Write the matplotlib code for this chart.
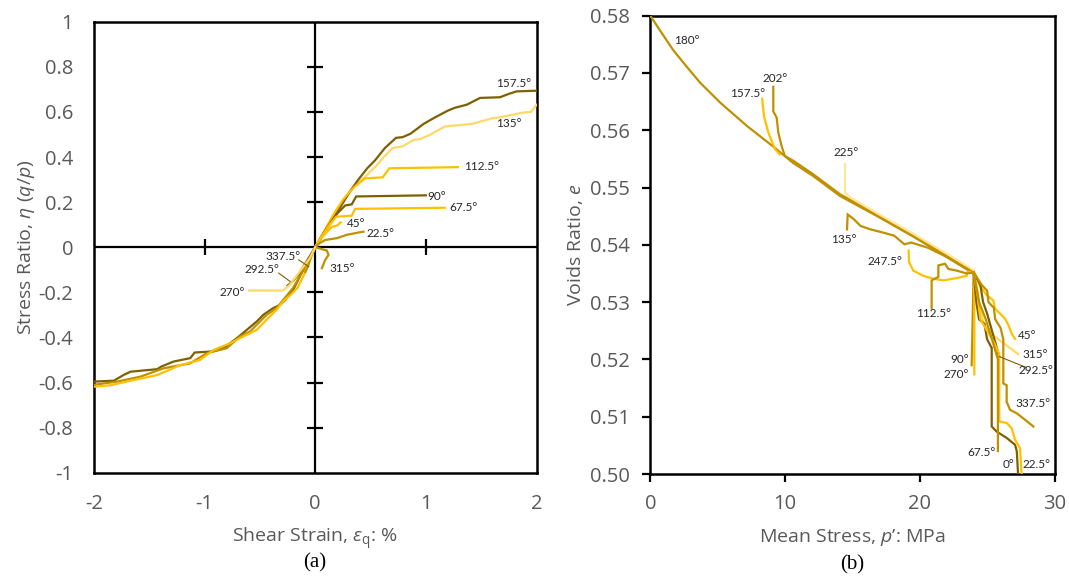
import matplotlib
matplotlib.use("Agg")
import matplotlib.pyplot as plt

plt.rcParams['font.family'] = ['Open Sans', 'DejaVu Sans']
plt.rcParams['mathtext.fontset'] = 'custom'
plt.rcParams['mathtext.rm'] = 'Open Sans'
plt.rcParams['mathtext.it'] = 'Open Sans:italic'

DARK = '#7F6000'
MID = '#BF9000'
GOLD = '#FFC000'
LIGHT = '#FFD966'
PALE = '#FFE699'
TICK_GREY = '#595959'
LABEL_GREY = '#262626'
NOTE_FONT = ['Lato', 'DejaVu Sans']

# ---------------- (a) stress ratio vs shear strain ----------------
a_xticks = [-2, -1, 0, 1, 2]
a_yticks = [-1, -0.8, -0.6, -0.4, -0.2, 0, 0.2, 0.4, 0.6, 0.8, 1]
a_yticklabels = ['-1', '-0.8', '-0.6', '-0.4', '-0.2', '0', '0.2', '0.4', '0.6', '0.8', '1']

a157_x = [0, 0.05, 0.12, 0.23, 0.31, 0.39, 0.47, 0.54, 0.63, 0.73, 0.79, 0.86, 0.98, 1.08, 1.2, 1.26, 1.37, 1.49, 1.67, 1.75, 1.82, 2.0]
a157_y = [0, 0.04, 0.1, 0.18, 0.245, 0.30, 0.35, 0.385, 0.44, 0.485, 0.488, 0.503, 0.547, 0.575, 0.606, 0.618, 0.632, 0.662, 0.665, 0.68, 0.691, 0.694]
a135_x = [0, 0.06, 0.15, 0.25, 0.36, 0.45, 0.55, 0.62, 0.70, 0.79, 0.89, 0.95, 1.04, 1.17, 1.23, 1.42, 1.60, 1.67, 1.88, 1.95, 2.0]
a135_y = [0, 0.04, 0.11, 0.2, 0.275, 0.312, 0.36, 0.40, 0.44, 0.447, 0.476, 0.48, 0.499, 0.535, 0.538, 0.547, 0.572, 0.576, 0.597, 0.60, 0.631]
a112_x = [0, 0.08, 0.17, 0.25, 0.30, 0.36, 0.45, 0.61, 0.67, 1.29]
a112_y = [0, 0.07, 0.15, 0.21, 0.24, 0.27, 0.305, 0.31, 0.35, 0.355]
a90_x = [0, 0.07, 0.14, 0.2, 0.27, 0.33, 0.37, 1.0]
a90_y = [0, 0.06, 0.11, 0.15, 0.185, 0.19, 0.225, 0.23]
a67_x = [0, 0.06, 0.13, 0.19, 0.33, 0.36, 1.17]
a67_y = [0, 0.05, 0.1, 0.135, 0.14, 0.17, 0.175]
a45_x = [0, 0.05, 0.1, 0.15, 0.2, 0.23]
a45_y = [0, 0.04, 0.065, 0.09, 0.097, 0.11]
a22_x = [0, 0.04, 0.09, 0.195, 0.286, 0.39, 0.436]
a22_y = [0, 0.018, 0.032, 0.04, 0.055, 0.065, 0.069]
a315_x = [0, 0.105, 0.12, 0.09, 0.06]
a315_y = [0, -0.015, -0.034, -0.056, -0.093]
a337_x = [0, -0.03, -0.05, -0.07, -0.09]
a337_y = [0, -0.03, -0.06, -0.09, -0.11]
a292_x = [0, -0.05, -0.1, -0.15, -0.2, -0.25]
a292_y = [0, -0.04, -0.08, -0.12, -0.15, -0.17]
a270_x = [0, -0.05, -0.14, -0.23, -0.29, -0.60]
a270_y = [0, -0.049, -0.108, -0.167, -0.192, -0.192]
a180_x = [0, -0.06, -0.13, -0.2, -0.27, -0.32, -0.38, -0.47, -0.53, -0.62, -0.71, -0.83, -0.95, -1.09, -1.13, -1.28, -1.39, -1.43, -1.67, -1.73, -1.82, -2.0]
a180_y = [0, -0.06, -0.12, -0.19, -0.234, -0.256, -0.27, -0.30, -0.33, -0.367, -0.404, -0.448, -0.463, -0.467, -0.492, -0.507, -0.529, -0.541, -0.552, -0.566, -0.592, -0.596]
a202_x = [0, -0.07, -0.14, -0.2, -0.29, -0.35, -0.44, -0.59, -0.68, -0.80, -0.98, -1.13, -1.37, -1.58, -1.79, -2.0]
a202_y = [0, -0.07, -0.13, -0.18, -0.234, -0.27, -0.30, -0.374, -0.396, -0.448, -0.47, -0.515, -0.537, -0.574, -0.596, -0.61]
a225_x = [0, -0.05, -0.1, -0.16, -0.22, -0.29, -0.35, -0.44, -0.53, -0.65, -0.77, -0.92, -1.04, -1.22, -1.43, -1.64, -1.85, -2.0]
a225_y = [0, -0.06, -0.12, -0.18, -0.21, -0.24, -0.278, -0.322, -0.367, -0.396, -0.426, -0.456, -0.50, -0.523, -0.567, -0.589, -0.612, -0.619]

a_series = [
    (a180_x, a180_y, DARK), (a202_x, a202_y, MID), (a225_x, a225_y, GOLD),
    (a135_x, a135_y, LIGHT), (a157_x, a157_y, DARK), (a112_x, a112_y, GOLD),
    (a90_x, a90_y, DARK), (a67_x, a67_y, GOLD), (a45_x, a45_y, GOLD),
    (a22_x, a22_y, MID), (a315_x, a315_y, MID), (a337_x, a337_y, MID),
    (a292_x, a292_y, DARK), (a270_x, a270_y, LIGHT),
]

a_labels = ['157.5°', '135°', '112.5°', '90°', '67.5°', '45°', '22.5°', '315°', '337.5°', '292.5°', '270°']
a_label_x = [1.79, 1.75, 1.50, 1.10, 1.34, 0.37, 0.587, 0.24, -0.29, -0.48, -0.747]
a_label_y = [0.728, 0.547, 0.356, 0.226, 0.176, 0.106, 0.062, -0.093, -0.042, -0.10, -0.199]

# leader lines from labels to their curves
a_lead_337 = ([-0.15, -0.06], [-0.056, -0.086])
a_lead_292 = ([-0.33, -0.227], [-0.115, -0.152])

# ---------------- (b) voids ratio vs mean stress ----------------
b_xticks = [0, 10, 20, 30]
b_yticks = [0.50, 0.51, 0.52, 0.53, 0.54, 0.55, 0.56, 0.57, 0.58]
b_yticklabels = ['0.50', '0.51', '0.52', '0.53', '0.54', '0.55', '0.56', '0.57', '0.58']

b180_p = [0, 0.7, 1.7, 2.7, 3.7, 5.2, 7.2, 9.1, 10.6, 12.1, 14.1, 16.85, 19.4, 21.9, 24.0]
b180_e = [0.580, 0.5775, 0.5740, 0.5711, 0.5683, 0.5648, 0.5607, 0.5572, 0.5543, 0.5520, 0.5485, 0.5450, 0.5416, 0.5381, 0.5352]
b157_p = [8.31, 8.44, 8.76, 9.26, 9.6]
b157_e = [0.5655, 0.5624, 0.5596, 0.5567, 0.5558]
b202_p = [9.13, 9.13, 9.38, 9.5, 9.75, 9.99, 10.6, 12.1, 14.1, 16.85, 19.4, 21.9, 24.0]
b202_e = [0.5676, 0.5633, 0.5622, 0.5596, 0.5572, 0.5555, 0.5547, 0.5523, 0.5488, 0.5453, 0.5419, 0.5384, 0.5354]
b225_p = [14.45, 14.45, 14.82, 16.85, 19.4, 21.9, 24.0]
b225_e = [0.5541, 0.5491, 0.5483, 0.5455, 0.5421, 0.5386, 0.5356]
b135_p = [14.6, 14.65, 15.1, 15.6, 16.35, 17.35, 18.1, 18.86, 19.36, 20.6, 21.9, 24.0]
b135_e = [0.5427, 0.5453, 0.5445, 0.5433, 0.5427, 0.5421, 0.5416, 0.5401, 0.5404, 0.5395, 0.5380, 0.5350]
b247_p = [19.17, 19.2, 19.52, 20.26, 21.0, 21.75, 22.74, 23.48, 23.53, 24.0]
b247_e = [0.5390, 0.5370, 0.5355, 0.5346, 0.5341, 0.5338, 0.5342, 0.5346, 0.5353, 0.5352]
b112_p = [20.88, 20.88, 21.38, 21.38, 21.87, 22.12, 22.74, 23.5, 24.0]
b112_e = [0.5289, 0.5338, 0.5344, 0.5364, 0.5367, 0.5358, 0.5355, 0.5350, 0.5352]
b90_p = [24.0, 23.95, 23.9, 23.85]
b90_e = [0.5352, 0.5300, 0.5240, 0.5190]
b270_p = [24.0, 24.05, 24.05, 24.05]
b270_e = [0.5352, 0.5300, 0.5230, 0.5174]
b45_p = [24.0, 24.1, 24.46, 24.97, 25.46, 25.58, 25.96, 26.33, 26.58, 26.82, 27.07]
b45_e = [0.5352, 0.5349, 0.5329, 0.5312, 0.5303, 0.5289, 0.5280, 0.5271, 0.5260, 0.5245, 0.5236]
b315_p = [24.0, 24.3, 24.5, 24.8, 25.3, 26.0, 26.6, 27.31]
b315_e = [0.5352, 0.5320, 0.5285, 0.5260, 0.5245, 0.5232, 0.5222, 0.5209]
b292_p = [24.0, 24.5, 24.7, 25.0, 25.3, 25.6, 25.9]
b292_e = [0.5352, 0.5330, 0.5300, 0.5280, 0.5255, 0.5230, 0.5205]
b337_p = [24.0, 24.6, 25.0, 25.1, 25.5, 25.6, 26.0, 26.2, 26.2, 26.45, 26.45, 26.7, 27.2, 27.69, 28.43]
b337_e = [0.5352, 0.5330, 0.5320, 0.5300, 0.5290, 0.5270, 0.5255, 0.5235, 0.5158, 0.5155, 0.5126, 0.5112, 0.5106, 0.5097, 0.5083]
b0_p = [24.0, 24.2, 24.4, 24.8, 25.0, 25.34, 25.34, 25.71, 26.45, 27.07, 27.2, 27.3]
b0_e = [0.5352, 0.5300, 0.5270, 0.5262, 0.5235, 0.5220, 0.5083, 0.5074, 0.5063, 0.5051, 0.5040, 0.4998]
b22_p = [24.0, 24.3, 24.5, 25.0, 25.5, 25.9, 25.9, 26.45, 26.82, 27.07, 27.44, 27.56]
b22_e = [0.5352, 0.5310, 0.5270, 0.5250, 0.5230, 0.5210, 0.5092, 0.5089, 0.5080, 0.5060, 0.5045, 0.4999]
b67_p = [24.0, 24.4, 24.9, 25.3, 25.8, 25.8]
b67_e = [0.5352, 0.5300, 0.5270, 0.5240, 0.5200, 0.5040]

b_series = [
    (b180_p, b180_e, MID), (b202_p, b202_e, MID), (b157_p, b157_e, GOLD),
    (b225_p, b225_e, PALE), (b135_p, b135_e, MID), (b247_p, b247_e, GOLD),
    (b112_p, b112_e, MID), (b90_p, b90_e, MID), (b270_p, b270_e, GOLD),
    (b45_p, b45_e, GOLD), (b315_p, b315_e, LIGHT), (b292_p, b292_e, DARK),
    (b337_p, b337_e, MID), (b0_p, b0_e, DARK), (b22_p, b22_e, GOLD),
    (b67_p, b67_e, MID),
]

b_labels = ['180°', '157.5°', '202°', '225°', '135°', '247.5°', '112.5°', '45°', '315°', '292.5°',
            '90°', '270°', '337.5°', '67.5°', '0°', '22.5°']
b_label_x = [2.7, 7.2, 9.26, 14.53, 14.35, 17.42, 21.06, 27.94, 28.55, 28.63,
             22.99, 22.69, 28.43, 24.6, 26.57, 28.63]
b_label_y = [0.5757, 0.5665, 0.5691, 0.5561, 0.5409, 0.5371, 0.5281, 0.5241, 0.5209, 0.5181,
             0.5199, 0.5174, 0.5123, 0.5037, 0.5016, 0.5016]
b_lead_292 = ([25.9, 27.9], [0.5205, 0.5186])

W, H = 1069, 581
fig = plt.figure(figsize=(W / 100, H / 100), dpi=100)

# ---- panel (a)
ax = fig.add_axes([94 / W, 1 - 472.7 / H, (536.5 - 94) / W, (472.7 - 21.7) / H])
for xs, ys, c in a_series:
    ax.plot(xs, ys, color=c, lw=1.6, solid_joinstyle='miter', zorder=3)
ax.plot(*a_lead_337, color=DARK, lw=0.8, zorder=3)
ax.plot(*a_lead_292, color=DARK, lw=0.8, zorder=3)
for t, x, y in zip(a_labels, a_label_x, a_label_y):
    ax.text(x, y, t, fontsize=8.5, family=NOTE_FONT, color=LABEL_GREY, ha='center', va='center', zorder=4)

ax.set_xlim(-2, 2)
ax.set_ylim(-1, 1)
ax.axhline(0, color='black', lw=1.6, zorder=2)
ax.axvline(0, color='black', lw=1.6, zorder=2)
inner_y = [v for v in a_yticks if abs(v) not in (0, 1)]
inner_x = [v for v in a_xticks if abs(v) not in (0, 2)]
ax.plot([0] * len(inner_y), inner_y, ls='none', marker='_', ms=11, mew=1.6, color='black', zorder=2)
ax.plot(inner_x, [0] * len(inner_x), ls='none', marker='|', ms=11, mew=1.6, color='black', zorder=2)
ax.set_xticks(a_xticks)
ax.set_xticklabels([str(v) for v in a_xticks])
ax.set_yticks(a_yticks)
ax.set_yticklabels(a_yticklabels)
ax.tick_params(length=0, labelsize=14.5, labelcolor=TICK_GREY, pad=15)
for s in ax.spines.values():
    s.set_linewidth(1.8)
ax.set_ylabel(r'Stress Ratio, $\mathit{\eta}$ ($\mathit{q/p}$)', fontsize=14, color=TICK_GREY, labelpad=1)
ax.set_xlabel(r'Shear Strain, $\mathit{\varepsilon}_{\mathrm{q}}$: %', fontsize=14, color=TICK_GREY, labelpad=9)
fig.text(315 / W, 1 - 563 / H, '(a)', fontsize=15, family='Liberation Serif', ha='center', va='center')

# ---- panel (b)
bx = fig.add_axes([650.3 / W, 1 - 474 / H, (1054.5 - 650.3) / W, (474 - 15.7) / H])
for ps, es, c in b_series:
    bx.plot(ps, es, color=c, lw=1.6, solid_joinstyle='miter', zorder=3)
bx.plot(*b_lead_292, color=DARK, lw=0.8, zorder=3)
for t, x, y in zip(b_labels, b_label_x, b_label_y):
    bx.text(x, y, t, fontsize=8.5, family=NOTE_FONT, color=LABEL_GREY, ha='center', va='center', zorder=4)
bx.set_xlim(0, 30)
bx.set_ylim(0.50, 0.58)
bx.set_xticks(b_xticks)
bx.set_xticklabels([str(v) for v in b_xticks])
bx.set_yticks(b_yticks)
bx.set_yticklabels(b_yticklabels)
bx.tick_params(direction='out', length=5.5, width=1.6, labelsize=14.5, labelcolor=TICK_GREY, pad=9)
for s in bx.spines.values():
    s.set_linewidth(1.8)
bx.set_ylabel(r'Voids Ratio, $\mathit{e}$', fontsize=14, color=TICK_GREY, labelpad=4)
bx.set_xlabel(r'Mean Stress, $\mathit{p}$’: MPa', fontsize=14, color=TICK_GREY, labelpad=9)
fig.text(852 / W, 1 - 565 / H, '(b)', fontsize=15, family='Liberation Serif', ha='center', va='center')

fig.savefig('out.png', dpi=100)
